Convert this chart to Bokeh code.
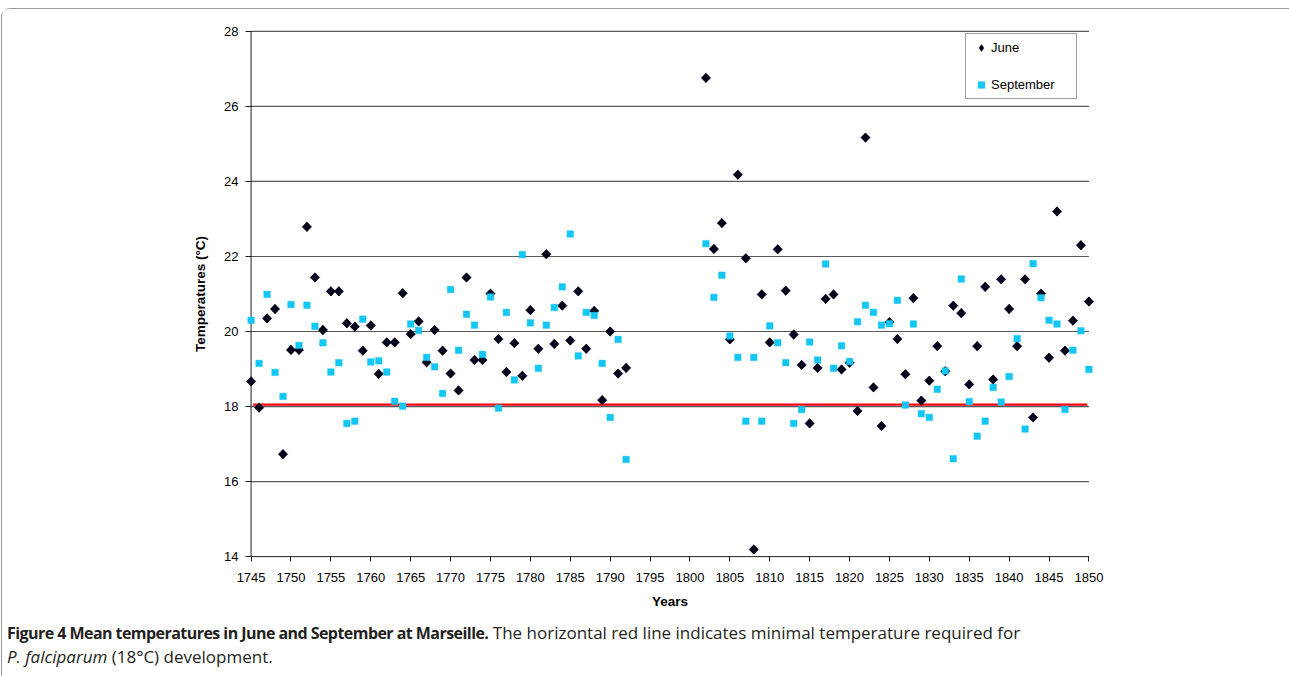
import math
from bokeh.plotting import figure
from bokeh.models import Range1d, FixedTicker, Legend, LegendItem, Div
from bokeh.layouts import column
from bokeh.embed import file_html
from bokeh.resources import INLINE

# ---------------- data ----------------
years = list(range(1745, 1793)) + list(range(1802, 1851))

june = [
    18.67, 17.97, 20.35, 20.60, 16.73, 19.51, 19.51, 22.79, 21.44, 20.04,
    21.07, 21.07, 20.22, 20.13, 19.49, 20.16, 18.87, 19.71, 19.71, 21.02,
    19.93, 20.27, 19.18, 20.04, 19.49, 18.88, 18.43, 21.44, 19.24, 19.24,
    21.01, 19.80, 18.92, 19.69, 18.82, 20.57, 19.54, 22.06, 19.67, 20.69,
    19.76, 21.07, 19.54, 20.55, 18.17, 20.00, 18.88, 19.03,
    26.76, 22.20, 22.89, 19.79, 24.18, 21.95, 14.19, 20.99, 19.71, 22.19,
    21.09, 19.92, 19.11, 17.55, 19.03, 20.87, 20.99, 18.99, 19.17, 17.88,
    25.17, 18.51, 17.48, 20.25, 19.80, 18.86, 20.89, 18.16, 18.69, 19.61,
    18.94, 20.69, 20.49, 18.59, 19.61, 21.19, 18.72, 21.39, 20.60, 19.61,
    21.39, 17.71, 21.01, 19.30, 23.20, 19.49, 20.29, 22.30, 20.80,
]

september = [
    20.30, 19.15, 20.99, 18.91, 18.27, 20.72, 19.63, 20.70, 20.14, 19.70,
    18.92, 19.17, 17.55, 17.61, 20.33, 19.19, 19.22, 18.92, 18.14, 18.01,
    20.20, 20.03, 19.31, 19.06, 18.35, 21.12, 19.50, 20.46, 20.17, 19.39,
    20.92, 17.96, 20.51, 18.71, 22.05, 20.23, 19.02, 20.17, 20.64, 21.19,
    22.60, 19.35, 20.51, 20.43, 19.15, 17.71, 19.79, 16.59,
    22.34, 20.91, 21.50, 19.88, 19.31, 17.61, 19.31, 17.61, 20.15, 19.70,
    19.17, 17.55, 17.92, 19.72, 19.24, 21.80, 19.02, 19.62, 19.20, 20.26,
    20.70, 20.51, 20.17, 20.21, 20.83, 18.04, 20.20, 17.81, 17.71, 18.46,
    18.95, 16.61, 21.40, 18.13, 17.21, 17.61, 18.51, 18.12, 18.80, 19.81,
    17.40, 21.81, 20.90, 20.30, 20.20, 17.92, 19.50, 20.02, 18.99,
]

x_ticks = [1745, 1750, 1755, 1760, 1765, 1770, 1775, 1780, 1785, 1790, 1795,
           1800, 1805, 1810, 1815, 1820, 1825, 1830, 1835, 1840, 1845, 1850]
y_ticks = [14, 16, 18, 20, 22, 24, 26, 28]
x_min, x_max = 1745, 1850
threshold = 18.05

# ---------------- figure ----------------
p = figure(width=1285, height=602,
           x_range=Range1d(x_min - 0.7, x_max + 0.7),
           y_range=Range1d(y_ticks[0] - 0.05, y_ticks[-1] + 0.05),
           output_backend="svg", toolbar_location=None,
           min_border_left=243, min_border_right=193,
           min_border_top=20, min_border_bottom=53)
p.outline_line_color = None
p.xgrid.visible = False
p.ygrid.visible = False
p.background_fill_color = "white"
p.border_fill_color = "white"

# horizontal grid lines (from the axis to the last year)
gy = y_ticks[1:]
p.segment(x0=[x_min] * len(gy), y0=gy, x1=[x_max] * len(gy), y1=gy,
          line_color="#595959", line_width=1.2)
# axis lines
p.segment(x0=[x_min, x_min], y0=[y_ticks[0], y_ticks[0]],
          x1=[x_min, x_max], y1=[y_ticks[-1], y_ticks[0]],
          line_color="#202020", line_width=1)
# 18 degC threshold line
p.segment(x0=[x_min + 0.25], y0=[threshold], x1=[x_max - 0.2], y1=[threshold],
          line_color="#ff0000", line_width=2.2)

june_color = "#000018"
sept_color = "#13C6F4"
# June: diamond markers (a diamond core plus a square turned 45 degrees)
rj = p.scatter(years, june, marker="diamond", size=9,
               fill_color=june_color, line_color=june_color, line_width=0.6)
p.scatter(years, june, marker="square", angle=math.pi / 4, size=6.6,
          fill_color=june_color, line_color=june_color, line_width=0.6)
rs = p.scatter(years, september, marker="square", size=6.6,
               fill_color=sept_color, line_color=sept_color, line_width=0.4)

# axes
xa = p.xaxis[0]
xa.ticker = FixedTicker(ticks=x_ticks)
xa.axis_line_color = None
xa.major_tick_in = 2
xa.major_tick_out = 3
xa.major_tick_line_color = "#202020"
xa.minor_tick_line_color = None
xa.major_label_text_font = "Liberation Sans"
xa.major_label_text_font_size = "13px"
xa.major_label_text_color = "#000000"
xa.major_label_standoff = 11
xa.axis_label = "Years"
xa.axis_label_text_font = "Liberation Sans"
xa.axis_label_text_font_size = "13.5px"
xa.axis_label_text_font_style = "bold"
xa.axis_label_text_color = "#000000"
xa.axis_label_standoff = 9

ya = p.yaxis[0]
ya.ticker = FixedTicker(ticks=y_ticks)
ya.axis_line_color = None
ya.major_tick_in = 6
ya.major_tick_out = 0
ya.major_tick_line_color = "#202020"
ya.minor_tick_line_color = None
ya.major_label_text_font = "Liberation Sans"
ya.major_label_text_font_size = "13px"
ya.major_label_text_color = "#000000"
ya.major_label_standoff = 7
ya.axis_label = "Temperatures (°C)"
ya.axis_label_text_font = "Liberation Sans"
ya.axis_label_text_font_size = "13.5px"
ya.axis_label_text_font_style = "bold"
ya.axis_label_text_color = "#000000"
ya.axis_label_standoff = 13

legend = Legend(items=[LegendItem(label="June", renderers=[rj]),
                       LegendItem(label="September", renderers=[rs])],
                location=(720, 459), orientation="vertical", margin=0,
                padding=5, spacing=20, label_height=17, glyph_height=17,
                glyph_width=20, label_standoff=0, label_width=80,
                border_line_color="#404040", border_line_width=1,
                background_fill_color="white", background_fill_alpha=1,
                label_text_font="Liberation Sans", label_text_font_size="13px",
                label_text_color="#000000")
p.add_layout(legend)

caption = Div(
    text=('<div style="font-family:\'Open Sans\';font-size:17px;line-height:24px;'
          'color:#231f20;padding-top:5px;white-space:nowrap">'
          '<span style="font-weight:bold;font-size:16px;letter-spacing:-0.55px">'
          'Figure 4 Mean temperatures in June and September at Marseille.</span> '
          'The horizontal red line indicates minimal temperature required for<br>'
          '<i>P. falciparum</i> (18°C) development.</div>'),
    width=1285, height=60)

layout = column(p, caption, margin=(8, 0, 0, 1),
                styles={"border-top": "1px solid #9a9a9a",
                        "border-left": "1px solid #9a9a9a",
                        "border-right": "1px solid #9a9a9a",
                        "border-radius": "9px 9px 0 0"})

open("out.html", "w").write(file_html(layout, INLINE))
